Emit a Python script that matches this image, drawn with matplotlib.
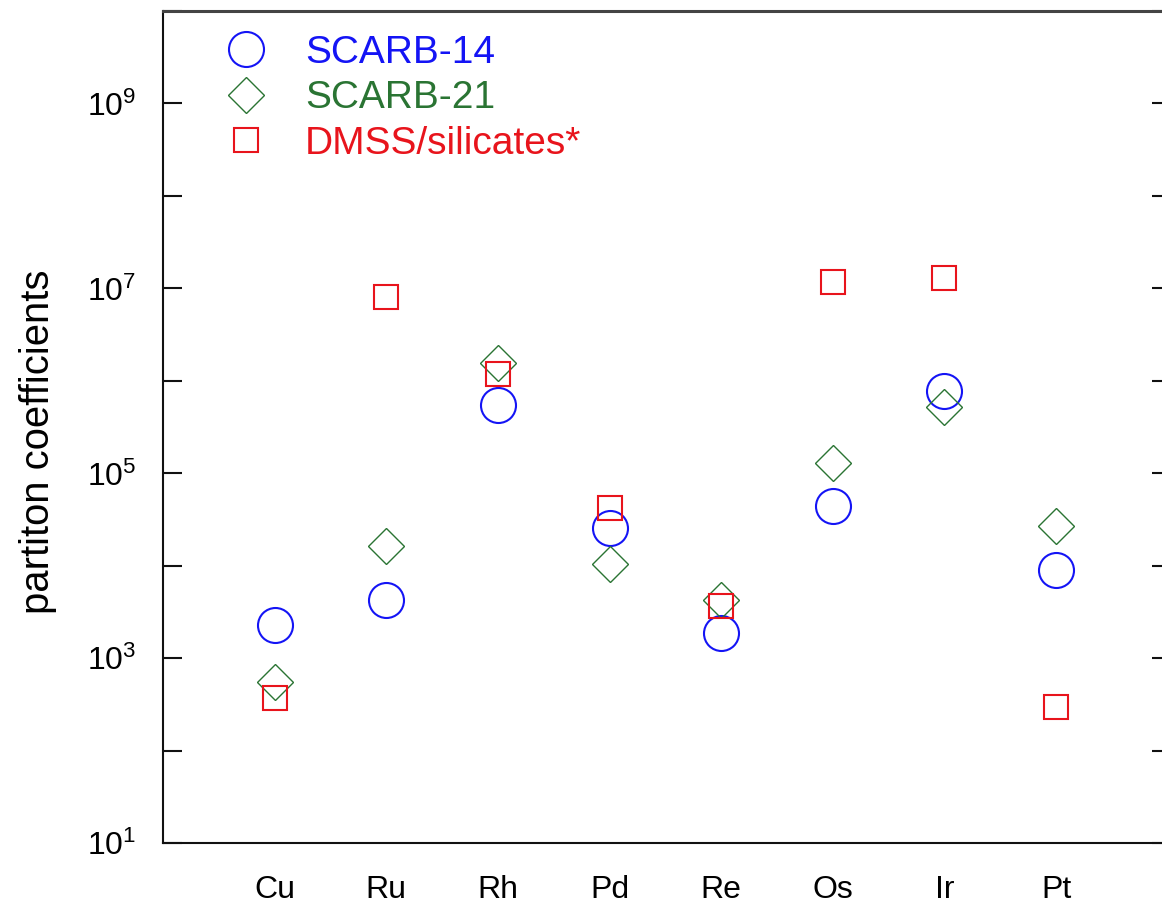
import matplotlib
matplotlib.use("Agg")
import matplotlib.pyplot as plt
from matplotlib.ticker import FixedLocator, FixedFormatter, NullLocator

plt.rcParams['font.family'] = ['Liberation Sans', 'DejaVu Sans']
plt.rcParams['mathtext.fontset'] = 'custom'
plt.rcParams['mathtext.rm'] = 'Liberation Sans'
plt.rcParams['mathtext.it'] = 'Liberation Sans:italic'
plt.rcParams['mathtext.bf'] = 'Liberation Sans:bold'

# ---- data ----
elements = ["Cu", "Ru", "Rh", "Pd", "Re", "Os", "Ir", "Pt"]
scarb14 = [2275, 4240, 5.55e5, 2.58e4, 1900, 4.39e4, 7.85e5, 9100]
scarb21 = [552, 1.64e4, 1.58e6, 1.05e4, 4320, 1.29e5, 5.19e5, 2.69e4]
dmss = [373, 8.0e6, 1.19e6, 4.25e4, 3680, 1.16e7, 1.31e7, 299]
series_labels = ["SCARB-14", "SCARB-21", "DMSS/silicates*"]
ytick_exponents = [1, 2, 3, 4, 5, 6, 7, 8, 9, 10]
ylabel_exponents = [1, 3, 5, 7, 9]

c_blue = '#1414f5'
c_green = '#2a7433'
c_red = '#e8141c'

W, H = 1162, 906
fig = plt.figure(figsize=(W / 100, H / 100), dpi=100)
left_px, right_px, top_px, bottom_px = 163, 1171, 11, 843.3
ax = fig.add_axes([left_px / W, (H - bottom_px) / H,
                   (right_px - left_px) / W, (bottom_px - top_px) / H])

x = list(range(1, len(elements) + 1))
ax.plot(x, scarb14, linestyle='none', marker='o', markersize=25.2,
        markerfacecolor='none', markeredgecolor=c_blue, markeredgewidth=1.5,
        label=series_labels[0])
ax.plot(x, scarb21, linestyle='none', marker='D', markersize=18.8,
        markerfacecolor='none', markeredgecolor=c_green, markeredgewidth=1.0,
        label=series_labels[1])
ax.plot(x, dmss, linestyle='none', marker='s', markersize=17.3,
        markerfacecolor='none', markeredgecolor=c_red, markeredgewidth=1.5,
        label=series_labels[2])

ax.set_yscale('log')
ax.set_ylim(10, 1e10)
ax.set_xlim(0, 9.03)

ax.yaxis.set_major_locator(FixedLocator([10.0 ** e for e in ytick_exponents]))
ax.yaxis.set_minor_locator(NullLocator())
ylabels = [r'$\mathregular{10^{%d}}$' % e if e in ylabel_exponents else ''
           for e in ytick_exponents]
ax.yaxis.set_major_formatter(FixedFormatter(ylabels))
ax.tick_params(axis='y', which='major', direction='in', length=14,
               width=1.5, labelsize=23, pad=19, right=True, color='#111111')

ax.set_xticks(x)
ax.set_xticklabels(elements)
ax.tick_params(axis='x', which='major', length=0, labelsize=23, pad=23)

for side in ['left', 'bottom', 'right']:
    ax.spines[side].set_linewidth(1.5)
    ax.spines[side].set_color('#111111')
ax.spines['top'].set_linewidth(2.2)
ax.spines['top'].set_color('#444444')

ax.set_ylabel('partiton coefficients', fontsize=28.8, va='center')
ax.yaxis.set_label_coords((38 - left_px) / (right_px - left_px),
                          (bottom_px - 442) / (bottom_px - top_px))

fs_leg = 28
ax.legend(loc='upper left',
          bbox_to_anchor=((226.6 - left_px) / (right_px - left_px),
                          (bottom_px - 35) / (bottom_px - top_px)),
          frameon=False, fontsize=fs_leg, numpoints=1,
          handlelength=1.0, handletextpad=1.02, borderpad=0,
          borderaxespad=0, labelspacing=0.24,
          labelcolor=[c_blue, c_green, c_red])

fig.savefig('out.png', dpi=100)
